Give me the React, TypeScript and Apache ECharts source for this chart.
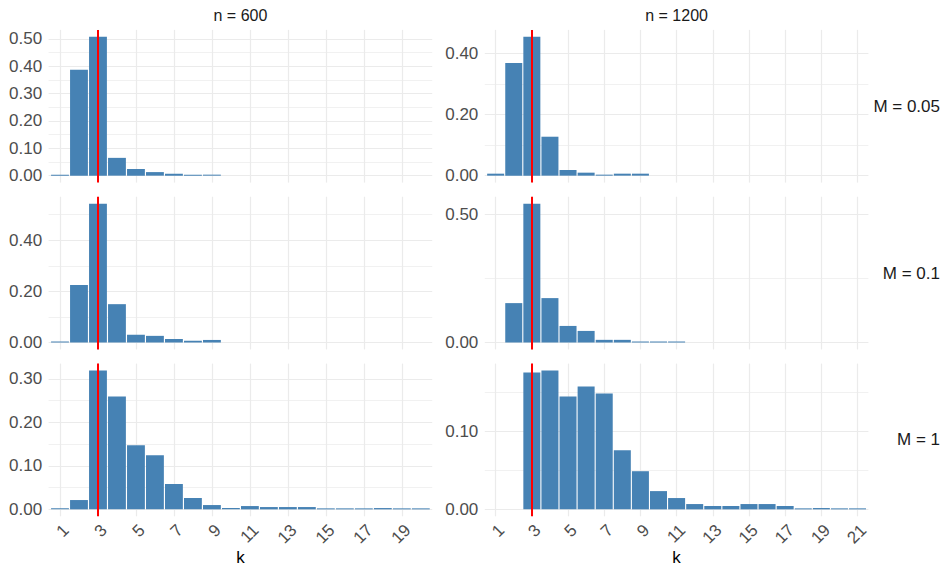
import React, { useEffect, useRef } from "react";
import * as echarts from "echarts";

// ---- data ----
const kLevelsN600 = [1, 2, 3, 4, 5, 6, 7, 8, 9, 10, 11, 12, 13, 14, 15, 16, 17, 18, 19, 20];
const kLevelsN1200 = [1, 2, 3, 4, 5, 6, 7, 8, 9, 10, 11, 12, 13, 14, 15, 16, 17, 18, 19, 20, 21];
const colLabels = ["n = 600", "n = 1200"];
const rowLabels = ["M = 0.05", "M = 0.1", "M = 1"];
const trueK = 3;

// proportions of selected k, aligned with the k levels (null = not observed)
const propM005N600 = [0.002, 0.387, 0.507, 0.065, 0.024, 0.013, 0.007, 0.002, 0.002, null, null, null, null, null, null, null, null, null, null, null];
const propM01N600 = [0.002, 0.225, 0.543, 0.15, 0.03, 0.026, 0.014, 0.0065, 0.01, null, null, null, null, null, null, null, null, null, null, null];
const propM1N600 = [0.0017, 0.0214, 0.319, 0.2595, 0.1473, 0.1244, 0.058, 0.026, 0.0099, 0.003, 0.0076, 0.0053, 0.0053, 0.0053, 0.0017, 0.0017, 0.0017, 0.003, 0.0017, 0.0017];

const propM005N1200 = [0.0065, 0.369, 0.4545, 0.1275, 0.0185, 0.0098, 0.0033, 0.0065, 0.0065, null, null, null, null, null, null, null, null, null, null, null, null];
const propM01N1200 = [null, 0.154, 0.5427, 0.1736, 0.0648, 0.0453, 0.0104, 0.0104, 0.0026, 0.0026, 0.0026, null, null, null, null, null, null, null, null, null, null];
const propM1N1200 = [null, null, 0.1753, 0.1779, 0.1447, 0.1574, 0.1485, 0.0757, 0.0489, 0.0234, 0.0145, 0.0068, 0.0043, 0.0043, 0.0068, 0.0068, 0.0043, 0.0008, 0.0017, 0.0008, 0.0008];

// y tick steps per row
const yTickStepN600 = [0.1, 0.2, 0.1];
const yTickStepN1200 = [0.2, 0.5, 0.1];

// ---- layout / style ----
const FONT = "'Liberation Sans', Arial, Helvetica, sans-serif";
const colLeft = [48.6, 484.8];
const colWidth = 383.6;
const rowTop = [29.9, 196.75, 363.6];
const rowHeight = 152.7;
const GRID_COLOR = "#EBEBEB";
const BAR_COLOR = "#4682B4";

export default function App() {
  const ref = useRef<HTMLDivElement>(null);

  useEffect(() => {
    if (!ref.current) return;
    const chart = echarts.init(ref.current, null, { renderer: "svg" });

    const columns = [
      { levels: kLevelsN600, rows: [propM005N600, propM01N600, propM1N600], steps: yTickStepN600 },
      { levels: kLevelsN1200, rows: [propM005N1200, propM01N1200, propM1N1200], steps: yTickStepN1200 },
    ];

    const grids: any[] = [];
    const xAxes: any[] = [];
    const yAxes: any[] = [];
    const series: any[] = [];

    columns.forEach((col, c) => {
      col.rows.forEach((vals, r) => {
        const idx = grids.length;
        const levels = col.levels;
        const maxV = Math.max(...(vals.filter((v) => v != null) as number[]));
        const step = col.steps[r];
        grids.push({
          left: colLeft[c],
          top: rowTop[r],
          width: colWidth,
          height: rowHeight,
          containLabel: false,
        });
        xAxes.push({
          type: "value",
          gridIndex: idx,
          min: -0.6,
          max: levels.length - 1 + 0.6,
          minInterval: 2,
          maxInterval: 2,
          axisLine: { show: false },
          axisTick: { show: false },
          splitLine: {
            show: true,
            showMinLine: false,
            showMaxLine: false,
            lineStyle: { color: GRID_COLOR, width: 1.2 },
          },
          axisLabel: {
            show: r === 2,
            rotate: 45,
            verticalAlign: "top",
            margin: 5,
            fontSize: 17,
            fontFamily: FONT,
            color: "#4D4D4D",
            formatter: (v: number) => {
              const i = Math.round(v);
              if (Math.abs(v - i) > 1e-6 || i % 2 !== 0 || i < 0 || i >= levels.length) return "";
              return String(levels[i]);
            },
          },
        });
        yAxes.push({
          type: "value",
          gridIndex: idx,
          min: -0.05 * maxV,
          max: 1.05 * maxV,
          minInterval: step,
          maxInterval: step,
          axisLine: { show: false },
          axisTick: { show: false },
          minorTick: { show: false, splitNumber: 2 },
          splitLine: {
            show: true,
            showMinLine: false,
            showMaxLine: false,
            lineStyle: { color: GRID_COLOR, width: 1.2 },
          },
          minorSplitLine: { show: true, lineStyle: { color: GRID_COLOR, width: 0.7 } },
          axisLabel: {
            margin: 6.5,
            fontSize: 17,
            fontFamily: FONT,
            color: "#4D4D4D",
            formatter: (v: number) => {
              const q = v / step;
              if (v < -1e-9 || Math.abs(q - Math.round(q)) > 1e-6) return "";
              return v.toFixed(2);
            },
          },
        });
        const data: number[][] = [];
        vals.forEach((v, i) => {
          if (v != null) data.push([i, v]);
        });
        series.push({
          type: "bar",
          xAxisIndex: idx,
          yAxisIndex: idx,
          data,
          barWidth: "94%",
          barMinHeight: 1,
          itemStyle: { color: BAR_COLOR },
          silent: true,
          markLine: {
            silent: true,
            symbol: ["none", "none"],
            label: { show: false },
            lineStyle: { color: "#FF0000", width: 2, type: "solid" },
            data: [{ xAxis: levels.indexOf(trueK) }],
          },
        });
      });
    });

    const graphics: any[] = [];
    colLabels.forEach((t, c) => {
      graphics.push({
        type: "text",
        x: colLeft[c] + colWidth / 2,
        y: 15,
        style: { text: t, fontSize: 16, fontFamily: FONT, fill: "#1A1A1A", align: "center", verticalAlign: "middle" },
      });
      graphics.push({
        type: "text",
        x: colLeft[c] + colWidth / 2,
        y: 557.5,
        style: { text: "k", fontSize: 17, fontFamily: FONT, fill: "#000000", align: "center", verticalAlign: "middle" },
      });
    });
    rowLabels.forEach((t, r) => {
      graphics.push({
        type: "text",
        x: 940,
        y: rowTop[r] + rowHeight / 2,
        style: { text: t, fontSize: 17, fontFamily: FONT, fill: "#1A1A1A", align: "right", verticalAlign: "middle" },
      });
    });

    chart.setOption({
      animation: false,
      backgroundColor: "#FFFFFF",
      grid: grids,
      xAxis: xAxes,
      yAxis: yAxes,
      series,
      graphic: graphics,
    });

    return () => chart.dispose();
  }, []);

  return (
    <div
      ref={ref}
      style={{ position: "fixed", left: 0, top: 0, width: 946, height: 568 }}
    />
  );
}
